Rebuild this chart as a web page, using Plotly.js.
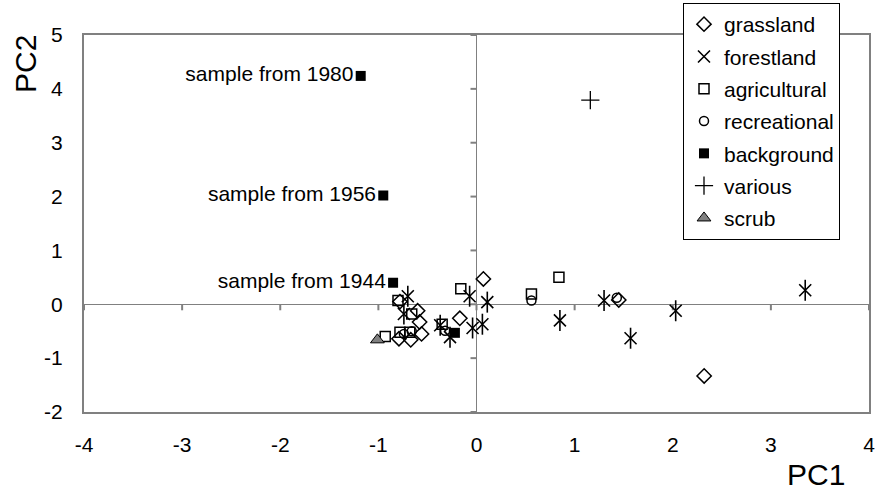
<!DOCTYPE html>
<html>
<head>
<meta charset="utf-8">
<script src="https://cdn.plot.ly/plotly-3.0.1.min.js"></script>
<style>html,body{margin:0;padding:0;background:#fff;}#chart{width:876px;height:493px;}</style>
</head>
<body>
<div id="chart"></div>
<script>
// ---- data ----
const grasslandX = [0.07, 2.32, 1.45, -0.17, -0.60, -0.58, -0.56, -0.67, -0.79, -0.78];
const grasslandY = [0.47, -1.33, 0.08, -0.26, -0.12, -0.33, -0.55, -0.66, -0.64, 0.05];

const forestX = [-0.70, -0.74, -0.37, -0.27, -0.07, 0.11, -0.04, 0.06, 0.85, 1.30, 1.57, 2.03, 3.35];
const forestY = [0.15, -0.18, -0.39, -0.61, 0.15, 0.04, -0.44, -0.37, -0.30, 0.07, -0.63, -0.12, 0.26];

const agriX = [-0.80, -0.66, -0.78, -0.68, -0.93, -0.35, -0.16, 0.56, 0.84];
const agriY = [0.07, -0.18, -0.52, -0.52, -0.60, -0.37, 0.29, 0.19, 0.50];

const recX = [-0.74, -0.66, -0.32, 0.56, 1.43];
const recY = [-0.55, -0.50, -0.49, 0.07, 0.12];

const bgX = [-1.18, -0.95, -0.85, -0.22];
const bgY = [4.24, 2.02, 0.40, -0.53];
const bgLabels = ['sample from 1980', 'sample from 1956', 'sample from 1944', ''];

const variousX = [1.16];
const variousY = [3.79];

const scrubX = [-1.01];
const scrubY = [-0.66];

const xTicks = [-4, -3, -2, -1, 0, 1, 2, 3, 4];
const xTickText = ['-4', '-3', '-2', '-1', '0', '1', '2', '3', '4'];
const yTicks = [-2, -1, 0, 1, 2, 3, 4, 5];
const yTickText = ['-2', '-1', '0', '1', '2', '3', '4', '5'];

// ---- styling ----
const FONT = 'Liberation Sans, Arial, sans-serif';
const GREY = '#808080';
const blackLine = w => ({color: '#000', width: w});

const X_RANGE = [-4, 4], Y_RANGE = [-2, 5];
const PLOT_W = 876 - 84 - 7, PLOT_H = 493 - 35 - 81, TICK = 6;   // tick length in px
const tickDY = TICK / PLOT_H * (Y_RANGE[1] - Y_RANGE[0]);
const tickDX = TICK / PLOT_W * (X_RANGE[1] - X_RANGE[0]);

const traces = [
  // tick marks hanging from the axes that cross at zero (Excel "axis crosses at 0")
  {x: xTicks, y: xTicks.map(() => 0), type: 'scatter', mode: 'markers', marker: {size: 1, opacity: 0},
   error_y: {type: 'constant', symmetric: false, value: 0, valueminus: tickDY, width: 0, thickness: 2, color: GREY},
   showlegend: false, hoverinfo: 'skip'},
  {x: yTicks.map(() => 0), y: yTicks, type: 'scatter', mode: 'markers', marker: {size: 1, opacity: 0},
   error_x: {type: 'constant', symmetric: false, value: 0, valueminus: tickDX, width: 0, thickness: 2, color: GREY},
   showlegend: false, hoverinfo: 'skip'},

  {name: 'grassland', legendgroup: 'g1', x: grasslandX, y: grasslandY, type: 'scatter', mode: 'markers',
   marker: {symbol: 'diamond-open', size: 11, color: '#000', line: blackLine(1.5)}},
  {name: 'forestland', legendgroup: 'g2', x: forestX, y: forestY, type: 'scatter', mode: 'markers',
   marker: {symbol: 'x-thin-open', size: 12, color: '#000', line: blackLine(1.6)}},
  // vertical stroke of the Excel-style star
  {name: 'forestland', legendgroup: 'g2', showlegend: false, x: forestX, y: forestY,
   type: 'scatter', mode: 'markers',
   marker: {symbol: 'line-ns-open', size: 15, color: '#000', line: blackLine(1.6)}},
  {name: 'agricultural', legendgroup: 'g3', x: agriX, y: agriY, type: 'scatter', mode: 'markers',
   marker: {symbol: 'square-open', size: 10, color: '#000', line: blackLine(1.5)}},
  {name: 'recreational', legendgroup: 'g4', x: recX, y: recY, type: 'scatter', mode: 'markers',
   marker: {symbol: 'circle-open', size: 9, color: '#000', line: blackLine(1.5)}},
  {name: 'background', legendgroup: 'g5', x: bgX, y: bgY, text: bgLabels, type: 'scatter', mode: 'markers+text',
   textposition: 'middle left', textfont: {family: FONT, size: 21, color: '#000'},
   marker: {symbol: 'square', size: 10, color: '#000', line: blackLine(0)}},
  {name: 'various', legendgroup: 'g6', x: variousX, y: variousY, type: 'scatter', mode: 'markers',
   marker: {symbol: 'cross-thin-open', size: 13, color: '#000', line: blackLine(1.3)}},
  {name: 'scrub', legendgroup: 'g7', x: scrubX, y: scrubY, type: 'scatter', mode: 'markers',
   marker: {symbol: 'triangle-up', size: 12, color: '#808080', line: blackLine(1)}}
];

const layout = {
  width: 876, height: 493,
  margin: {l: 84, r: 7, t: 35, b: 81, autoexpand: false},
  paper_bgcolor: '#fff', plot_bgcolor: '#fff',
  font: {family: FONT, size: 21, color: '#000'},
  showlegend: true,
  xaxis: {
    range: X_RANGE, tickmode: 'array', tickvals: xTicks, ticktext: xTickText, ticks: '', showgrid: false,
    zeroline: true, zerolinecolor: GREY, zerolinewidth: 1.5,
    showline: true, mirror: true, linecolor: GREY, linewidth: 2,
    ticklabelstandoff: 13, tickfont: {family: FONT, size: 21, color: '#000'}
  },
  yaxis: {
    range: Y_RANGE, tickmode: 'array', tickvals: yTicks, ticktext: yTickText, ticks: '', showgrid: false,
    zeroline: true, zerolinecolor: GREY, zerolinewidth: 1.5,
    showline: true, mirror: true, linecolor: GREY, linewidth: 2,
    ticklabelstandoff: 15, tickfont: {family: FONT, size: 21, color: '#000'}
  },
  legend: {
    xref: 'container', yref: 'container',
    x: 683 / 876, y: 1 - 3 / 493, xanchor: 'left', yanchor: 'top',
    bgcolor: '#fff', bordercolor: '#000', borderwidth: 1,
    font: {family: FONT, size: 21, color: '#000'},
    tracegroupgap: 2, itemwidth: 30
  },
  annotations: [
    {text: 'PC1', xref: 'paper', yref: 'paper', x: (816 - 84) / 785, y: (412 - 474) / 377,
     xanchor: 'center', yanchor: 'middle', showarrow: false, font: {family: FONT, size: 30, color: '#000'}},
    {text: 'PC2', xref: 'paper', yref: 'paper', x: (26 - 84) / 785, y: (412 - 64) / 377,
     xanchor: 'center', yanchor: 'middle', textangle: -90, showarrow: false, font: {family: FONT, size: 30, color: '#000'}}
  ]
};

Plotly.newPlot('chart', traces, layout, {staticPlot: true, displayModeBar: false});
</script>
</body>
</html>
